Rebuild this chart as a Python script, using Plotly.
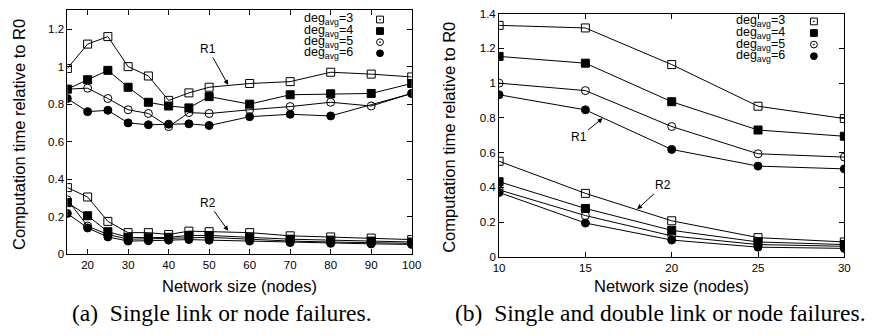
import plotly.graph_objects as go

# ---------------- data ----------------
x_a = [15, 20, 25, 30, 35, 40, 45, 50, 60, 70, 80, 90, 100]
a_r1_deg3 = [0.99, 1.12, 1.16, 1.00, 0.95, 0.82, 0.86, 0.89, 0.91, 0.92, 0.97, 0.96, 0.945]
a_r1_deg4 = [0.88, 0.93, 0.98, 0.89, 0.81, 0.79, 0.78, 0.84, 0.80, 0.85, 0.855, 0.857, 0.91]
a_r1_deg5 = [0.88, 0.885, 0.83, 0.77, 0.75, 0.68, 0.755, 0.75, 0.77, 0.787, 0.81, 0.79, 0.857]
a_r1_deg6 = [0.83, 0.76, 0.767, 0.70, 0.69, 0.693, 0.695, 0.686, 0.733, 0.746, 0.737, None, 0.857]
a_r2_deg3 = [0.355, 0.305, 0.175, 0.115, 0.115, 0.105, 0.123, 0.12, 0.115, 0.098, 0.092, 0.086, 0.078]
a_r2_deg4 = [0.275, 0.205, 0.12, 0.09, 0.088, 0.09, 0.10, 0.10, 0.09, 0.08, 0.075, 0.07, 0.065]
a_r2_deg5 = [0.29, 0.15, 0.105, 0.08, 0.082, 0.085, 0.09, 0.09, 0.08, 0.07, 0.065, 0.062, 0.058]
a_r2_deg6 = [0.217, 0.14, 0.092, 0.07, 0.072, 0.075, 0.078, 0.075, 0.07, 0.062, 0.058, 0.055, 0.052]

x_b = [10, 15, 20, 25, 30]
b_r1_deg3 = [1.333, 1.318, 1.107, 0.867, 0.796]
b_r1_deg4 = [1.154, 1.115, 0.893, 0.73, 0.694]
b_r1_deg5 = [1.0, 0.957, 0.75, 0.593, 0.574]
b_r1_deg6 = [0.933, 0.846, 0.618, 0.522, 0.506]
b_r2_deg3 = [0.55, 0.365, 0.207, 0.11, 0.085]
b_r2_deg4 = [0.432, 0.278, 0.152, 0.085, 0.07]
b_r2_deg5 = [0.385, 0.237, 0.12, 0.07, 0.06]
b_r2_deg6 = [0.37, 0.194, 0.096, 0.055, 0.048]

degs = [3, 4, 5, 6]
symbols = ["square-open", "square", "circle-open", "circle"]

a_tickvals = [20, 30, 40, 50, 60, 70, 80, 90, 100]
a_yticks = [0, 0.2, 0.4, 0.6, 0.8, 1.0, 1.2]
b_tickvals = [10, 15, 20, 25, 30]
b_yticks = [0, 0.2, 0.4, 0.6, 0.8, 1.0, 1.2, 1.4]

W, H = 872, 336

fig = go.Figure()

def add(xs, ys, sym, xa, ya):
    fig.add_trace(go.Scatter(
        x=xs, y=ys, mode="lines+markers", xaxis=xa, yaxis=ya,
        connectgaps=True,
        line=dict(color="black", width=1),
        marker=dict(symbol=sym, size=8, color="black",
                    line=dict(color="black", width=1)),
        showlegend=False, hoverinfo="skip"))

for ys, s in zip([a_r1_deg3, a_r1_deg4, a_r1_deg5, a_r1_deg6], symbols):
    add(x_a, ys, s, "x", "y")
for ys, s in zip([a_r2_deg3, a_r2_deg4, a_r2_deg5, a_r2_deg6], symbols):
    add(x_a, ys, s, "x", "y")
for ys, s in zip([b_r1_deg3, b_r1_deg4, b_r1_deg5, b_r1_deg6], symbols):
    add(x_b, ys, s, "x2", "y2")
for ys, s in zip([b_r2_deg3, b_r2_deg4, b_r2_deg5, b_r2_deg6], symbols):
    add(x_b, ys, s, "x2", "y2")

def fmt(v):
    return ("%g" % v)

axis_common = dict(showline=True, linecolor="black", linewidth=1, mirror="allticks",
                   ticks="inside", ticklen=5, tickcolor="black", tickwidth=1,
                   showgrid=False, zeroline=False,
                   tickfont=dict(family="Liberation Sans", size=11.5, color="black"))

def px_x(p):
    return p / W

def px_y(p):
    return 1 - p / H

fig.update_layout(
    width=W, height=H, margin=dict(l=0, r=0, t=0, b=0),
    plot_bgcolor="white", paper_bgcolor="white", showlegend=False,
    xaxis=dict(domain=[px_x(62.5), px_x(413.3)], range=[15, 100],
               tickvals=a_tickvals, ticktext=[fmt(v) for v in a_tickvals],
               anchor="y", **axis_common),
    yaxis=dict(domain=[px_y(257.4), px_y(4.5)], range=[0, 1.3],
               tickvals=a_yticks, ticktext=[fmt(v) for v in a_yticks],
               anchor="x", **axis_common),
    xaxis2=dict(domain=[px_x(502.3), px_x(854)], range=[10, 30],
                tickvals=b_tickvals, ticktext=[fmt(v) for v in b_tickvals],
                anchor="y2", **axis_common),
    yaxis2=dict(domain=[px_y(260), px_y(8)], range=[0, 1.4],
                tickvals=b_yticks, ticktext=[fmt(v) for v in b_yticks],
                anchor="x2", **axis_common),
)

ann = []
sans = dict(family="Liberation Sans", color="black")

# axis titles
ttl = 16.5
ann.append(dict(text="Network size (nodes)", x=px_x(238), y=px_y(290), xref="paper", yref="paper",
                showarrow=False, xanchor="center", yanchor="middle", font=dict(size=ttl, **sans)))
ann.append(dict(text="Network size (nodes)", x=px_x(678), y=px_y(290), xref="paper", yref="paper",
                showarrow=False, xanchor="center", yanchor="middle", font=dict(size=ttl, **sans)))
ann.append(dict(text="Computation time relative to R0", x=px_x(14), y=px_y(133), xref="paper", yref="paper",
                showarrow=False, textangle=-90, xanchor="center", yanchor="middle", font=dict(size=ttl, **sans)))
ann.append(dict(text="Computation time relative to R0", x=px_x(451), y=px_y(136), xref="paper", yref="paper",
                showarrow=False, textangle=-90, xanchor="center", yanchor="middle", font=dict(size=ttl, **sans)))

# captions
serif = dict(family="Liberation Serif", color="black", size=23.5)
ann.append(dict(text="(a)\u00a0 Single link or node failures.", x=px_x(220), y=px_y(318), xref="paper", yref="paper",
                showarrow=False, xanchor="center", yanchor="middle", font=serif))
ann.append(dict(text="(b)\u00a0 Single and double link or node failures.", x=px_x(667), y=px_y(318), xref="paper", yref="paper",
                showarrow=False, xanchor="center", yanchor="middle", font=serif))

# R1/R2 arrows
arrow = dict(showarrow=True, arrowhead=2, arrowsize=1, arrowwidth=1, arrowcolor="black",
             font=dict(size=12, **sans))
ann.append(dict(text="R1", x=54.7, y=0.902, xref="x", yref="y", ax=-20, ay=-36, **arrow))
ann.append(dict(text="R2", x=54.7, y=0.125, xref="x", yref="y", ax=-20, ay=-28, **arrow))
ann.append(dict(text="R1", x=16.0, y=0.797, xref="x2", yref="y2", ax=-24, ay=19, **arrow))
ann.append(dict(text="R2", x=18.0, y=0.273, xref="x2", yref="y2", ax=26, ay=-24, **arrow))

# legends (text left, symbol right)
shapes = []
def legend(text_right, mark_x, rows):
    for d, yy, sym in zip(degs, rows, symbols):
        ann.append(dict(text="deg<sub>avg</sub>=%d" % d, x=px_x(text_right), y=px_y(yy),
                        xref="paper", yref="paper", showarrow=False,
                        xanchor="right", yanchor="middle", font=dict(size=12.5, **sans)))
        r = 3.5
        base = dict(xref="paper", yref="paper",
                    x0=px_x(mark_x - r), x1=px_x(mark_x + r),
                    y0=px_y(yy + r), y1=px_y(yy - r),
                    line=dict(color="black", width=1))
        if sym.startswith("square"):
            shapes.append(dict(type="rect", fillcolor="black" if sym == "square" else "white", **base))
        else:
            shapes.append(dict(type="circle", fillcolor="black" if sym == "circle" else "white", **base))
        if sym.endswith("open"):
            rd = 0.6
            shapes.append(dict(type="circle", xref="paper", yref="paper",
                               x0=px_x(mark_x - rd), x1=px_x(mark_x + rd),
                               y0=px_y(yy + rd), y1=px_y(yy - rd),
                               fillcolor="black", line=dict(color="black", width=0.5)))

legend(356, 381, [14, 26, 37.5, 49])
legend(796, 823, [16, 28, 40, 52])

fig.update_layout(annotations=ann, shapes=shapes)
fig.write_html("out.html")
